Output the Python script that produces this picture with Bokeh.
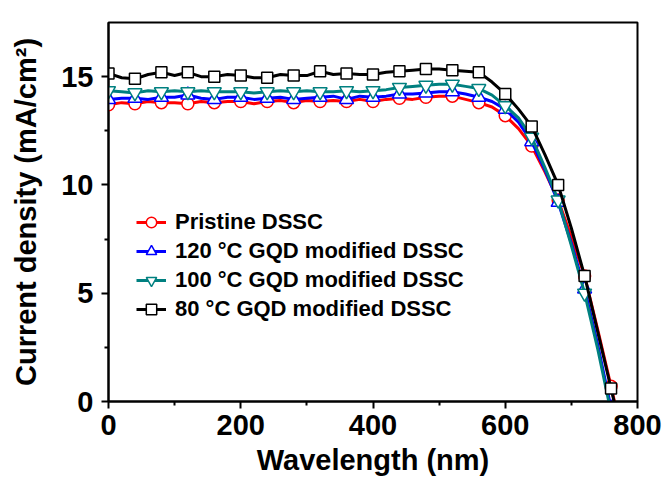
from bokeh.plotting import figure
from bokeh.embed import file_html
from bokeh.resources import INLINE
from bokeh.models import Range1d, FixedTicker

wavelength = [0, 20, 40, 60, 80, 100, 120, 140, 160, 180, 200, 220, 240, 260, 280, 300,
              320, 340, 360, 380, 400, 420, 440, 460, 480, 500, 520, 540, 560, 580, 600,
              620, 640, 660, 680, 700, 720, 740, 760, 780]

pristine = [13.7, 13.8, 13.75, 13.85, 13.8, 13.8, 13.75, 13.85, 13.8, 13.85, 13.85, 13.75,
            13.85, 13.9, 13.8, 13.9, 13.85, 13.9, 13.85, 13.95, 13.85, 13.95, 14.0, 13.95,
            14.05, 14.1, 14.1, 13.95, 13.8, 13.6, 13.2, 12.6, 11.8, 10.6, 9.3, 7.6, 5.8,
            3.3, 0.7, -2.0]
gqd120 = [13.95, 14.0, 14.0, 13.95, 14.05, 14.05, 14.15, 14.0, 13.95, 14.05, 14.05, 13.95,
          14.0, 14.05, 13.95, 14.0, 14.05, 14.1, 13.95, 14.1, 14.05, 14.1, 14.2, 14.2,
          14.25, 14.3, 14.3, 14.2, 14.05, 13.85, 13.5, 12.9, 12.0, 10.7, 9.2, 7.3, 5.2,
          2.6, -0.3, -3.0]
gqd100 = [14.35, 14.3, 14.25, 14.35, 14.3, 14.35, 14.3, 14.35, 14.3, 14.3, 14.3, 14.25,
          14.3, 14.35, 14.3, 14.35, 14.3, 14.3, 14.35, 14.3, 14.35, 14.4, 14.5, 14.55,
          14.6, 14.65, 14.65, 14.55, 14.45, 14.15, 13.65, 13.1, 12.2, 10.8, 9.3, 7.2, 5.0,
          2.4, -0.5, -3.0]
gqd80 = [15.15, 14.95, 14.9, 15.1, 15.2, 15.05, 15.2, 15.0, 15.0, 15.1, 15.05, 14.95,
         14.95, 15.1, 15.05, 15.05, 15.25, 15.1, 15.15, 15.1, 15.1, 15.2, 15.25, 15.3,
         15.35, 15.35, 15.3, 15.25, 15.2, 14.75, 14.2, 13.5, 12.7, 11.4, 10.0, 8.0, 5.8,
         3.2, 0.6, -2.0]

labels = ["Pristine DSSC", "120 \u00b0C GQD modified DSSC",
          "100 \u00b0C GQD modified DSSC", "80 \u00b0C GQD modified DSSC"]
colors = ["#ff0000", "#0000ff", "#008080", "#000000"]
markers = ["circle", "triangle", "inverted_triangle", "square"]
sizes = [12, 14, 14, 11]
series = [pristine, gqd120, gqd100, gqd80]

FONT = "Liberation Sans"

p = figure(width=665, height=484, output_backend="svg", toolbar_location=None,
           x_range=Range1d(0, 800), y_range=Range1d(0, 17.5),
           min_border_left=108, min_border_right=28, min_border_top=22, min_border_bottom=83)
p.grid.visible = False
p.outline_line_color = "black"
p.outline_line_width = 2
p.background_fill_color = "white"

for ys, lab, col, mk, sz in zip(series, labels, colors, markers, sizes):
    p.line(wavelength, ys, line_color=col, line_width=3, legend_label=lab)
    p.scatter(wavelength[:39:2], ys[:39:2], marker=mk, size=sz, line_color=col,
              fill_color="white", line_width=1.5, legend_label=lab)

p.xaxis.ticker = FixedTicker(ticks=[0, 200, 400, 600, 800], minor_ticks=[100, 300, 500, 700])
p.yaxis.ticker = FixedTicker(ticks=[0, 5, 10, 15], minor_ticks=[2.5, 7.5, 12.5])
p.xaxis.axis_label = "Wavelength (nm)"
p.yaxis.axis_label = "Current density (mA/cm\u00b2)"
for ax in (p.xaxis, p.yaxis):
    ax.axis_line_width = 2
    ax.major_tick_line_width = 2
    ax.minor_tick_line_width = 2
    ax.major_tick_out = 7
    ax.major_tick_in = 0
    ax.minor_tick_out = 4
    ax.minor_tick_in = 0
    ax.major_label_text_font = FONT
    ax.major_label_text_font_style = "bold"
    ax.major_label_text_font_size = "29px"
    ax.major_label_text_color = "black"
    ax.axis_label_text_font = FONT
    ax.axis_label_text_font_style = "bold"
    ax.axis_label_text_font_size = "29px"
    ax.axis_label_text_color = "black"
p.xaxis.major_label_standoff = 6
p.xaxis.axis_label_standoff = 6
p.yaxis.major_label_standoff = 8
p.yaxis.axis_label_standoff = 16

lg = p.legend[0]
lg.location = (28, 79)
lg.background_fill_alpha = 0
lg.border_line_color = None
lg.label_text_font = FONT
lg.label_text_font_style = "bold"
lg.label_text_font_size = "22px"
lg.label_text_color = "black"
lg.glyph_width = 30
lg.glyph_height = 26
lg.label_height = 26
lg.spacing = 3
lg.padding = 2
lg.margin = 0
lg.label_standoff = 9

open("out.html", "w").write(file_html(p, INLINE))
